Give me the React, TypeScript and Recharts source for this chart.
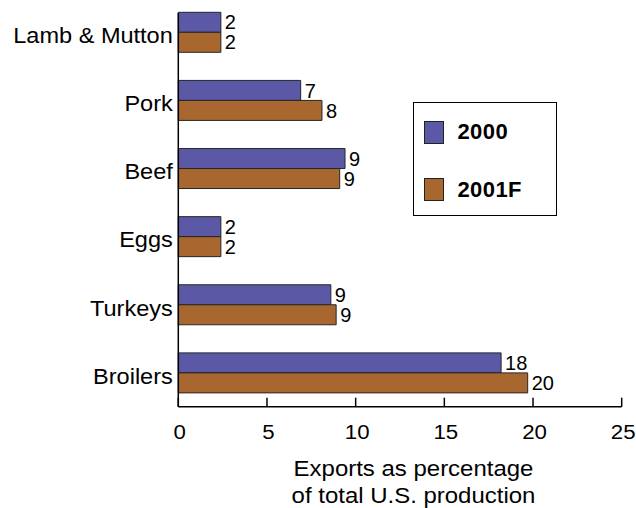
import React from 'react';
import { BarChart, Bar, XAxis, YAxis, LabelList, Legend, Label } from 'recharts';

const categories = ['Lamb & Mutton', 'Pork', 'Beef', 'Eggs', 'Turkeys', 'Broilers'];
const exports2000 = [2.4, 6.9, 9.4, 2.4, 8.6, 18.2];
const exports2001F = [2.4, 8.1, 9.1, 2.4, 8.9, 19.7];
const seriesNames = ['2000', '2001F'];
const xTicks = [0, 5, 10, 15, 20, 25];

const data = categories.map((name, i) => ({
  name,
  v2000: exports2000[i],
  v2001F: exports2001F[i],
}));

const FONT = '"Liberation Sans", Arial, Helvetica, sans-serif';
const BLUE = '#5b58a6';
const BROWN = '#a8672f';

// the original type is a little wider than Arial, so stretch it sideways
const XTick = ({ x, y, payload }: any) => (
  <g>
    <line x1={x} x2={x} y1={y} y2={y - 9} stroke="#000" strokeWidth={1.5} />
    <text
      transform={`translate(${x + 1.5},${y + 32}) scale(1.06,1)`}
      textAnchor="middle"
      fontSize={21}
      fontFamily={FONT}
      fill="#000"
    >
      {payload.value}
    </text>
  </g>
);

const YTick = ({ x, y, payload }: any) => (
  <text
    transform={`translate(${x - 5.5},${y + 11}) scale(1.07,1)`}
    textAnchor="end"
    fontSize={22}
    fontFamily={FONT}
    fill="#000"
  >
    {payload.value}
  </text>
);

const AxisTitle = ({ viewBox }: any) => {
  const cx = viewBox.x + viewBox.width / 2 + 13.5;
  return (
    <g transform={`translate(${cx},${viewBox.y}) scale(1.09,1)`}>
      <text textAnchor="middle" fontSize={22} fontFamily={FONT} fill="#000">
        <tspan x={0} y={69.3}>Exports as percentage</tspan>
        <tspan x={0} y={96.6}>of total U.S. production</tspan>
      </text>
    </g>
  );
};

const LegendBox = ({ payload }: any) => (
  <div
    style={{
      width: 144,
      height: 114,
      border: '1.5px solid #000',
      boxSizing: 'border-box',
      position: 'relative',
      background: '#fff',
    }}
  >
    {(payload || []).map((p: any, i: number) => (
      <div
        key={p.value}
        style={{ position: 'absolute', left: 10.2, top: 16.2 + i * 57.3, display: 'flex', alignItems: 'center' }}
      >
        <span
          style={{
            display: 'inline-block',
            width: 20,
            height: 23,
            background: p.color,
            border: '1px solid #222',
            boxSizing: 'border-box',
          }}
        />
        <span style={{ marginLeft: 13, font: `bold 22px ${FONT}`, color: '#000', letterSpacing: 0.4 }}>{p.value}</span>
      </div>
    ))}
  </div>
);

export default function App() {
  return (
    <div style={{ width: 636, height: 508, background: '#fff' }}>
      <style>{'body { margin: 0; } .recharts-surface { overflow: visible; }'}</style>
      <BarChart
        width={636}
        height={508}
        data={data}
        layout="vertical"
        margin={{ top: 13, right: 14.3, bottom: 41.3, left: 0 }}
        barCategoryGap="21%"
        barGap={0}
      >
        <XAxis
          type="number"
          domain={[0, 25]}
          ticks={xTicks}
          height={60}
          axisLine={{ stroke: '#000', strokeWidth: 1.5 }}
          tickLine={false}
          tickSize={0}
          tickMargin={0}
          tick={<XTick />}
          interval={0}
        >
          <Label content={<AxisTitle />} />
        </XAxis>
        <YAxis
          type="category"
          dataKey="name"
          width={178.3}
          padding={{ top: -15, bottom: 0 }}
          axisLine={{ stroke: '#000', strokeWidth: 1.5 }}
          tickLine={false}
          tickSize={0}
          tickMargin={0}
          tick={<YTick />}
          interval={0}
        />
        <Legend
          layout="vertical"
          align="center"
          verticalAlign="middle"
          content={<LegendBox />}
          wrapperStyle={{ position: 'absolute', left: 413.3, top: 102.3, width: 144, height: 114 }}
        />
        <Bar dataKey="v2000" name={seriesNames[0]} fill={BLUE} stroke="#262626" strokeWidth={1} isAnimationActive={false}>
          <LabelList
            dataKey="v2000"
            position="right"
            offset={4}
            formatter={(v: any) => Math.round(Number(v))}
            fontSize={20}
            fontFamily={FONT}
            fill="#000"
          />
        </Bar>
        <Bar dataKey="v2001F" name={seriesNames[1]} fill={BROWN} stroke="#262626" strokeWidth={1} isAnimationActive={false}>
          <LabelList
            dataKey="v2001F"
            position="right"
            offset={4}
            formatter={(v: any) => Math.round(Number(v))}
            fontSize={20}
            fontFamily={FONT}
            fill="#000"
          />
        </Bar>
      </BarChart>
    </div>
  );
}
